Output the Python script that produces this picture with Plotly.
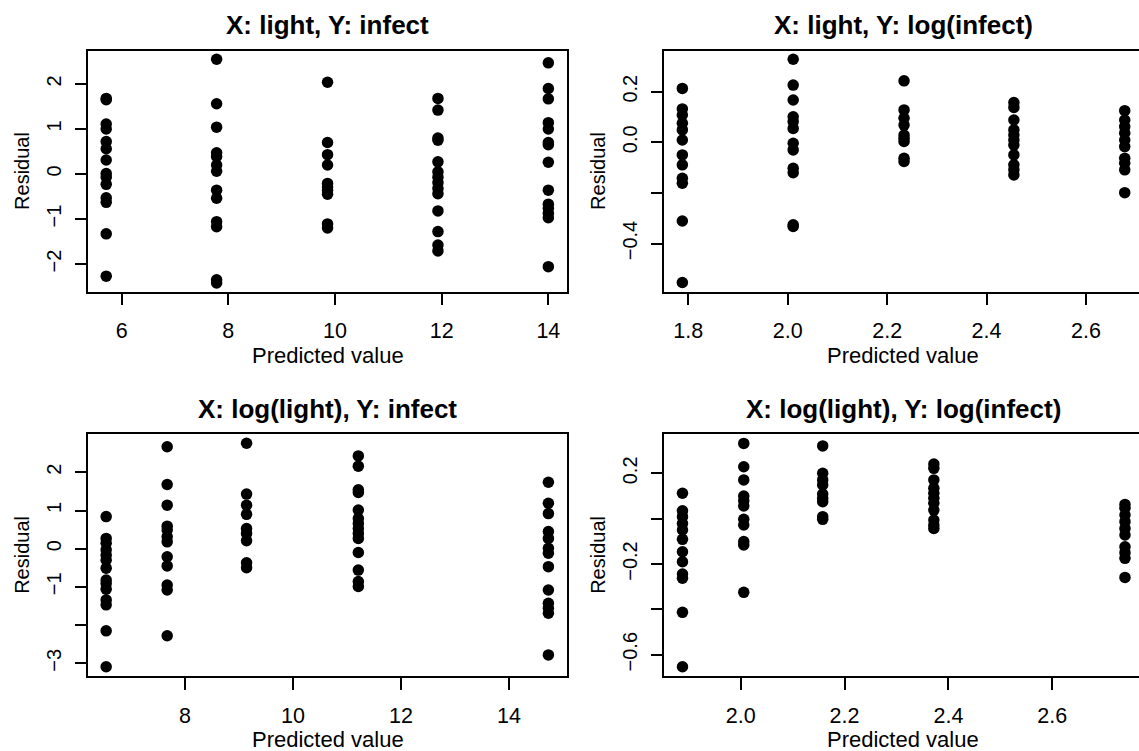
import plotly.graph_objects as go

# ---------------- data ----------------
titles = ["X: light, Y: infect", "X: light, Y: log(infect)",
          "X: log(light), Y: infect", "X: log(light), Y: log(infect)"]

p1_pred = [5.71, 7.78, 9.86, 11.93, 14.0]
p1_resid = [
    [1.68, 1.65, 1.11, 1.0, 0.72, 0.56, 0.31, 0.01, -0.07, -0.23, -0.53, -0.63, -1.33, -2.27],
    [2.55, 1.56, 1.04, 0.47, 0.39, 0.2, 0.06, -0.36, -0.54, -1.06, -1.17, -2.35, -2.42],
    [2.04, 0.70, 0.43, 0.2, -0.21, -0.29, -0.36, -0.45, -1.11, -1.2],
    [1.68, 1.42, 0.80, 0.75, 0.27, 0.05, -0.07, -0.19, -0.32, -0.44, -0.82, -1.28, -1.58, -1.71],
    [2.47, 1.9, 1.67, 1.14, 1.0, 0.70, 0.65, 0.26, -0.36, -0.67, -0.76, -0.87, -0.97, -2.06],
]

p2_pred = [1.788, 2.011, 2.234, 2.455, 2.678]
p2_resid = [
    [0.213, 0.132, 0.108, 0.075, 0.049, 0.009, -0.05, -0.089, -0.142, -0.162, -0.311, -0.554],
    [0.328, 0.226, 0.167, 0.101, 0.082, 0.055, -0.004, -0.03, -0.103, -0.12, -0.326, -0.333],
    [0.243, 0.128, 0.095, 0.068, 0.029, 0.016, 0.003, -0.063, -0.076],
    [0.157, 0.138, 0.088, 0.049, 0.029, 0.009, -0.011, -0.05, -0.089, -0.109, -0.129],
    [0.125, 0.088, 0.062, 0.036, 0.009, -0.017, -0.063, -0.083, -0.109, -0.199],
]

p3_pred = [6.54, 7.67, 9.14, 11.21, 14.73]
p3_resid = [
    [0.84, 0.27, 0.14, -0.03, -0.17, -0.30, -0.51, -0.82, -0.91, -1.06, -1.34, -1.47, -2.15, -3.09],
    [2.67, 1.68, 1.14, 0.59, 0.49, 0.31, 0.18, -0.21, -0.45, -0.95, -1.08, -2.28],
    [2.76, 1.43, 1.14, 0.90, 0.53, 0.40, 0.21, -0.37, -0.50],
    [2.43, 2.16, 1.54, 1.47, 1.01, 0.79, 0.66, 0.53, 0.40, 0.27, -0.10, -0.56, -0.86, -0.99],
    [1.74, 1.19, 0.92, 0.45, 0.27, 0.01, -0.12, -0.47, -1.08, -1.43, -1.56, -1.69, -2.78],
]

p4_pred = [1.888, 2.006, 2.158, 2.372, 2.740]
p4_resid = [
    [0.112, 0.035, 0.009, -0.021, -0.05, -0.091, -0.146, -0.19, -0.244, -0.263, -0.413, -0.653],
    [0.332, 0.229, 0.171, 0.1, 0.079, 0.056, -0.003, -0.028, -0.101, -0.116, -0.325],
    [0.321, 0.2, 0.171, 0.149, 0.109, 0.09, 0.075, 0.009, -0.003],
    [0.241, 0.222, 0.171, 0.134, 0.112, 0.09, 0.068, 0.038, -0.006, -0.028, -0.043],
    [0.063, 0.046, 0.016, -0.013, -0.043, -0.072, -0.124, -0.15, -0.175, -0.259],
]

p1_xticks = [6, 8, 10, 12, 14]
p1_xtext = ["6", "8", "10", "12", "14"]
p1_yticks = [-2, -1, 0, 1, 2]
p1_ytext = ["\u22122", "\u22121", "0", "1", "2"]

p2_xticks = [1.8, 2.0, 2.2, 2.4, 2.6]
p2_xtext = ["1.8", "2.0", "2.2", "2.4", "2.6"]
p2_yticks = [-0.4, -0.2, 0.0, 0.2]
p2_ytext = ["\u22120.4", "", "0.0", "0.2"]

p3_xticks = [8, 10, 12, 14]
p3_xtext = ["8", "10", "12", "14"]
p3_yticks = [-3, -2, -1, 0, 1, 2]
p3_ytext = ["\u22123", "", "\u22121", "0", "1", "2"]

p4_xticks = [2.0, 2.2, 2.4, 2.6]
p4_xtext = ["2.0", "2.2", "2.4", "2.6"]
p4_yticks = [-0.6, -0.4, -0.2, 0.0, 0.2]
p4_ytext = ["\u22120.6", "", "\u22120.2", "", "0.2"]

xlab = "Predicted value"
ylab = "Residual"

# ---------------- layout geometry (pixels) ----------------
W, H = 1139, 751
FONT = "Liberation Sans, Arial, Helvetica, sans-serif"

panels = [
    dict(pred=p1_pred, resid=p1_resid, xt=p1_xticks, xtt=p1_xtext, yt=p1_yticks, ytt=p1_ytext,
         px=(88.3, 566.7), py=(50.7, 291.7), xr=(5.374, 14.344), yr=(-2.616, 2.74), right=True),
    dict(pred=p2_pred, resid=p2_resid, xt=p2_xticks, xtt=p2_xtext, yt=p2_yticks, ytt=p2_ytext,
         px=(664.3, 1139), py=(50.7, 291.7), xr=(1.7517, 2.7067), yr=(-0.5905, 0.362), right=False),
    dict(pred=p3_pred, resid=p3_resid, xt=p3_xticks, xtt=p3_xtext, yt=p3_yticks, ytt=p3_ytext,
         px=(88.3, 566.7), py=(434.3, 676), xr=(6.209, 15.069), yr=(-3.333, 2.995), right=True),
    dict(pred=p4_pred, resid=p4_resid, xt=p4_xticks, xtt=p4_xtext, yt=p4_yticks, ytt=p4_ytext,
         px=(664.3, 1139), py=(434.3, 676), xr=(1.853, 2.767), yr=(-0.694, 0.3723), right=False),
]

fig = go.Figure()
layout = dict(width=W, height=H, margin=dict(l=0, r=0, t=0, b=0),
              paper_bgcolor="white", plot_bgcolor="white", showlegend=False,
              font=dict(family=FONT, size=20, color="black"))
annotations = []

for i, p in enumerate(panels):
    n = "" if i == 0 else str(i + 1)
    xs, ys = [], []
    for g, r in zip(p["pred"], p["resid"]):
        xs += [g] * len(r)
        ys += r
    fig.add_trace(go.Scatter(x=xs, y=ys, mode="markers", xaxis="x" + n, yaxis="y" + n,
                             marker=dict(size=11.5, color="black"), hoverinfo="x+y"))
    x0, x1 = p["px"]
    yt0, yb0 = p["py"]
    layout["xaxis" + n] = dict(domain=[x0 / W, min(x1 / W, 1.0)], range=list(p["xr"]),
                               anchor="y" + n, showline=True, mirror=True, linecolor="black",
                               linewidth=1.5, ticks="outside", ticklen=12, tickwidth=1.5,
                               tickcolor="black", tickvals=p["xt"], ticktext=p["xtt"],
                               showgrid=False, zeroline=False, ticklabelstandoff=7,
                               tickfont=dict(size=21.5, family=FONT))
    layout["yaxis" + n] = dict(domain=[1 - yb0 / H, 1 - yt0 / H], range=list(p["yr"]),
                               anchor="x" + n, showline=True, mirror=p["right"], linecolor="black",
                               linewidth=1.5, ticks="outside", ticklen=12, tickwidth=1.5,
                               tickcolor="black", tickvals=p["yt"], ticktext=p["ytt"],
                               tickangle=-90, showgrid=False, zeroline=False,
                               ticklabelstandoff=6, tickfont=dict(size=20, family=FONT))
    cx = (x0 + (x1 if p["right"] else 1141.7)) / 2
    cy = (yt0 + yb0) / 2
    annotations.append(dict(text="<b>" + titles[i] + "</b>", xref="paper", yref="paper",
                            x=cx / W, y=1 - (yt0 - 25.7) / H, xanchor="center", yanchor="middle",
                            showarrow=False, font=dict(size=26, family=FONT)))
    annotations.append(dict(text=xlab, xref="paper", yref="paper",
                            x=cx / W, y=1 - (yb0 + 63.5) / H, xanchor="center", yanchor="middle",
                            showarrow=False, font=dict(size=22, family=FONT)))
    annotations.append(dict(text=ylab, xref="paper", yref="paper", textangle=-90,
                            x=(x0 - 66.6) / W, y=1 - cy / H, xanchor="center", yanchor="middle",
                            showarrow=False, font=dict(size=20, family=FONT)))

layout["annotations"] = annotations
fig.update_layout(**layout)
fig.write_html("out.html", config={"displayModeBar": False},
               post_script="document.body.style.margin='0';document.body.style.overflow='hidden';")
